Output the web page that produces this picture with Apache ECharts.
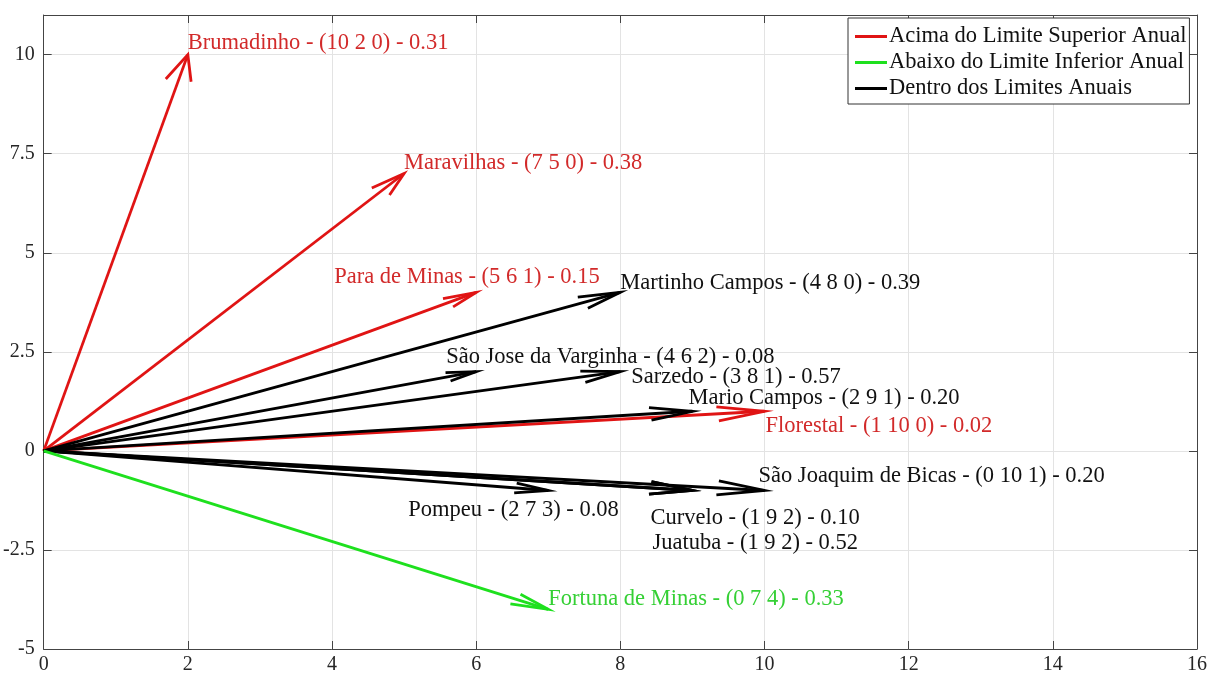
<!DOCTYPE html>
<html>
<head>
<meta charset="utf-8">
<title>Vetores por município</title>
<script src="https://cdn.jsdelivr.net/npm/echarts@6/dist/echarts.min.js"></script>
<style>
  html, body { margin: 0; padding: 0; background: #fff; }
  #chart { width: 1210px; height: 675px; }
</style>
</head>
<body>
<div id="chart"></div>
<script>
// Municípios e contagens (acima, dentro, abaixo) com o índice de cada um
const cities = [
  'Brumadinho', 'Maravilhas', 'Para de Minas', 'Martinho Campos',
  'São Jose da Varginha', 'Sarzedo', 'Mario Campos', 'Florestal',
  'São Joaquim de Bicas', 'Pompeu', 'Curvelo', 'Juatuba', 'Fortuna de Minas'
];
const acima  = [10, 7, 5, 4, 4, 3, 2, 1, 0, 2, 1, 1, 0];
const dentro = [2, 5, 6, 8, 6, 8, 9, 10, 10, 7, 9, 9, 7];
const abaixo = [0, 0, 1, 0, 2, 1, 1, 0, 1, 3, 2, 2, 4];
const indices = [0.31, 0.38, 0.15, 0.39, 0.08, 0.57, 0.20, 0.02, 0.20, 0.08, 0.10, 0.52, 0.33];
// 0 = acima do limite superior, 1 = abaixo do limite inferior, 2 = dentro dos limites
const status = [0, 0, 0, 2, 2, 2, 2, 0, 2, 2, 2, 2, 1];

const legendNames = [
  'Acima do Limite Superior Anual',
  'Abaixo do Limite Inferior Anual',
  'Dentro dos Limites Anuais'
];
const xTicks = [0, 2, 4, 6, 8, 10, 12, 14, 16];
const yTicks = [-5, -2.5, 0, 2.5, 5, 7.5, 10];

// Deslocamento do rótulo (px) em relação à ponta de cada vetor
const labelNudge = [
  [0, -12], [0, -10], [-142, -15], [0, -9], [-30, -15], [11, 5], [-4, -13],
  [1, 15], [-6, -14], [-140, 20], [-42, 28], [-40, 53], [0, -10]
];

const lineColors = ['#E01414', '#1EE01E', '#000000'];
const textColors = ['#D22A2A', '#35D035', '#111111'];
const FONT = '"Liberation Serif", "DejaVu Serif", serif';

function labelOf(i) {
  return cities[i] + ' - (' + acima[i] + ' ' + dentro[i] + ' ' + abaixo[i] + ') - ' + indices[i].toFixed(2);
}

// Ponta de seta aberta, calculada no espaço dos dados
const HEAD_ALPHA = 0.065, HEAD_BETA = 0.27;

function renderArrow(params, api) {
  const i = api.value(2);
  const u = api.value(0), v = api.value(1);
  const s = status[i];
  const p0 = api.coord([0, 0]);
  const p1 = api.coord([u, v]);
  const b1 = api.coord([u - HEAD_ALPHA * (u + HEAD_BETA * v), v - HEAD_ALPHA * (v - HEAD_BETA * u)]);
  const b2 = api.coord([u - HEAD_ALPHA * (u - HEAD_BETA * v), v - HEAD_ALPHA * (v + HEAD_BETA * u)]);
  const lineStyle = { stroke: lineColors[s], lineWidth: 2.8, fill: null, lineJoin: 'miter', lineCap: 'butt' };
  return {
    type: 'group',
    children: [
      { type: 'polyline', shape: { points: [p0, p1] }, style: lineStyle },
      { type: 'polyline', shape: { points: [b1, p1, b2] }, style: lineStyle },
      {
        type: 'text',
        x: p1[0] + labelNudge[i][0],
        y: p1[1] + labelNudge[i][1],
        style: {
          text: labelOf(i),
          fill: textColors[s],
          font: '22.5px ' + FONT,
          align: 'left',
          verticalAlign: 'middle'
        }
      }
    ]
  };
}

function seriesData(cat) {
  const out = [];
  for (let i = 0; i < cities.length; i++) {
    if (status[i] === cat) out.push([dentro[i], acima[i] - abaixo[i], i]);
  }
  return out;
}

const axisColor = '#444';
const gridColor = '#e3e3e3';

const baseX = {
  type: 'value', min: xTicks[0], max: xTicks[xTicks.length - 1], interval: 2,
  axisLine: { show: true, onZero: false, lineStyle: { color: axisColor, width: 1 } },
  axisTick: { show: true, inside: true, length: 8, lineStyle: { color: axisColor } }
};
const baseY = {
  type: 'value', min: yTicks[0], max: 11, interval: 2.5,
  axisLine: { show: true, onZero: false, lineStyle: { color: axisColor, width: 1 } },
  axisTick: { show: true, inside: true, length: 8, lineStyle: { color: axisColor } }
};

const chart = echarts.init(document.getElementById('chart'), null, { renderer: 'canvas' });

chart.setOption({
  animation: false,
  backgroundColor: '#ffffff',
  grid: { left: 42, right: 12, top: 15, bottom: 26, containLabel: false },
  legend: {
    orient: 'vertical',
    left: 848,
    top: 18,
    padding: [7, 3, 4, 7],
    itemGap: 3,
    itemWidth: 32,
    itemHeight: 3,
    backgroundColor: '#ffffff',
    borderColor: '#333',
    borderWidth: 1,
    borderRadius: 0,
    selectedMode: false,
    textStyle: { fontFamily: FONT, fontSize: 22.5, color: '#111', lineHeight: 22, padding: [0, 0, 0, -3] },
    data: legendNames.map((n) => ({ name: n, icon: 'rect' }))
  },
  xAxis: [
    Object.assign({}, baseX, {
      position: 'bottom',
      splitLine: { show: true, lineStyle: { color: gridColor, width: 1 } },
      axisLabel: { color: '#262626', fontFamily: FONT, fontSize: 20, margin: 6 }
    }),
    Object.assign({}, baseX, {
      position: 'top',
      splitLine: { show: false },
      axisLabel: { show: false }
    })
  ],
  yAxis: [
    Object.assign({}, baseY, {
      position: 'left',
      splitLine: { show: true, lineStyle: { color: gridColor, width: 1 } },
      axisLabel: { color: '#262626', fontFamily: FONT, fontSize: 20, margin: 9, showMaxLabel: false }
    }),
    Object.assign({}, baseY, {
      position: 'right',
      splitLine: { show: false },
      axisLabel: { show: false }
    })
  ],
  series: [
    { name: legendNames[0], type: 'custom', renderItem: renderArrow, data: seriesData(0),
      color: lineColors[0], z: 3, clip: false, encode: { x: 0, y: 1 } },
    { name: legendNames[2], type: 'custom', renderItem: renderArrow, data: seriesData(2),
      color: lineColors[2], z: 4, clip: false, encode: { x: 0, y: 1 } },
    { name: legendNames[1], type: 'custom', renderItem: renderArrow, data: seriesData(1),
      color: lineColors[1], z: 5, clip: false, encode: { x: 0, y: 1 } }
  ]
});
</script>
</body>
</html>
